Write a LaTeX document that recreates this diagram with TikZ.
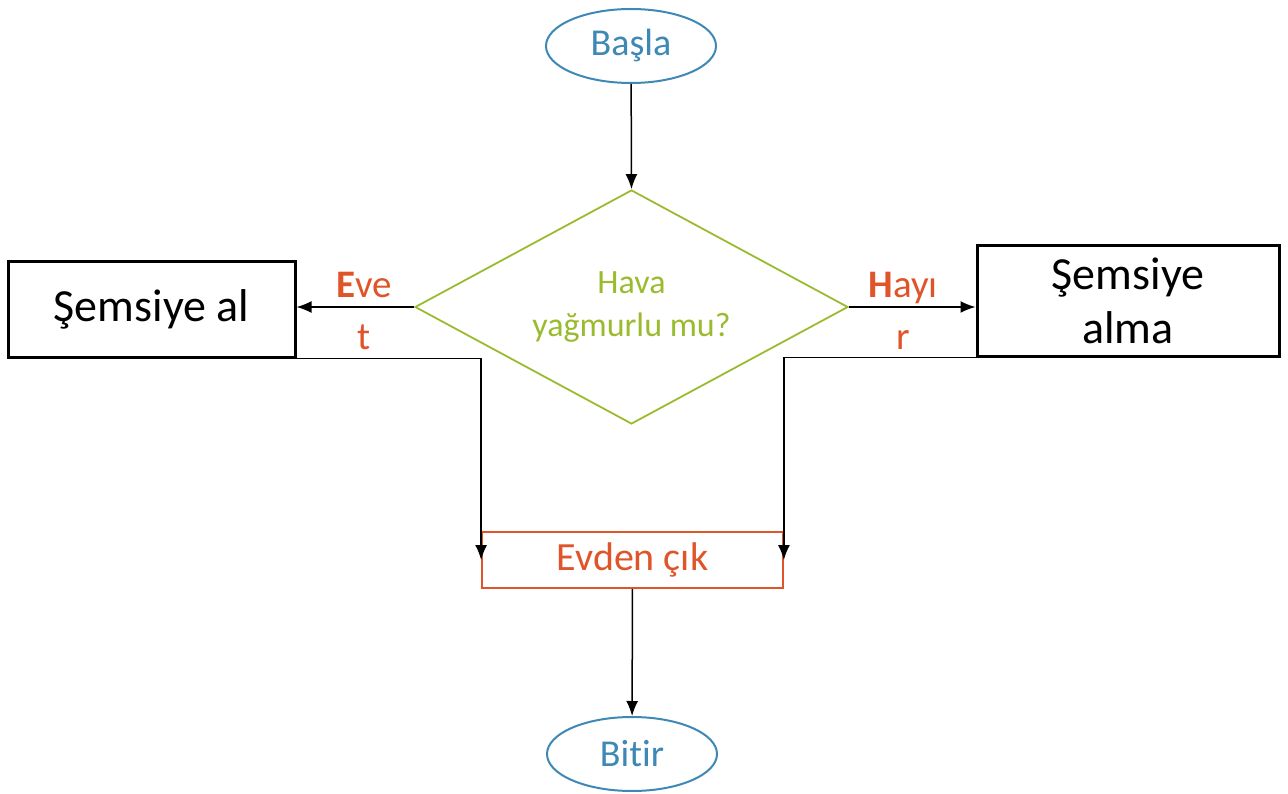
\documentclass[tikz,border=0pt]{standalone}
\usepackage{fontspec}
\setmainfont{Carlito}[Ligatures=NoCommon]
\usetikzlibrary{shapes.geometric,arrows.meta,calc}
\definecolor{cblue}{HTML}{3E88B5}
\definecolor{cgreen}{HTML}{9BBB2F}
\definecolor{corange}{HTML}{E0542A}
\begin{document}
\begin{tikzpicture}[x=1pt,y=-1pt,
  term/.style={ellipse,draw=cblue,line width=2pt,text=cblue,minimum width=170pt,minimum height=74pt,inner sep=0pt,font=\fontsize{38}{44}\selectfont},
  decis/.style={diamond,aspect=1.85,draw=cgreen,line width=1.8pt,text=cgreen,minimum width=433pt,minimum height=234pt,inner sep=0pt,align=center,font=\fontsize{34}{43}\selectfont},
  actbox/.style={rectangle,draw=black,line width=3pt,inner sep=0pt,align=center,font=\fontsize{46}{54}\selectfont},
  outbox/.style={rectangle,draw=corange,line width=1.8pt,text=corange,inner sep=0pt,minimum width=301pt,minimum height=56pt,font=\fontsize{40}{44}\selectfont},
  lbl/.style={text=corange,align=center,inner sep=0pt,font=\fontsize{39}{52}\selectfont},
  arr/.style={line width=1.5pt,-{Latex[length=15pt,width=12pt]}},
  ln/.style={line width=1.5pt}]
\useasboundingbox (0,0) rectangle (1288,794);
\node[term] (start) at (631,46) {Başla};
\node[decis] (dec) at (631.5,307) {Hava\\yağmurlu mu?};
\node[actbox,minimum width=287pt,minimum height=95pt] (left) at (151.5,309.5) {Şemsiye al};
\node[actbox,minimum width=302pt,minimum height=110pt] (right) at (1128,301) {Şemsiye\\alma};
\node[outbox] (out) at (632.5,560) {Evden çık};
\node[term] (stop) at (632,754) {Bitir};
\node[lbl] (yes) at (364,311) {\textbf{E}ve\\t};
\node[lbl] (no) at (903,311) {\textbf{H}ayı\\r};
\draw[arr] (start) -- (dec.north);
\draw[arr] (dec.west) -- (dec.west -| left.east);
\draw[arr] (dec.east) -- (dec.east -| right.west);
\draw[arr] (left.south east) -| (out.west);
\draw[arr] (right.south west) -| (out.east);
\draw[arr] (out) -- (stop);
\end{tikzpicture}
\end{document}
